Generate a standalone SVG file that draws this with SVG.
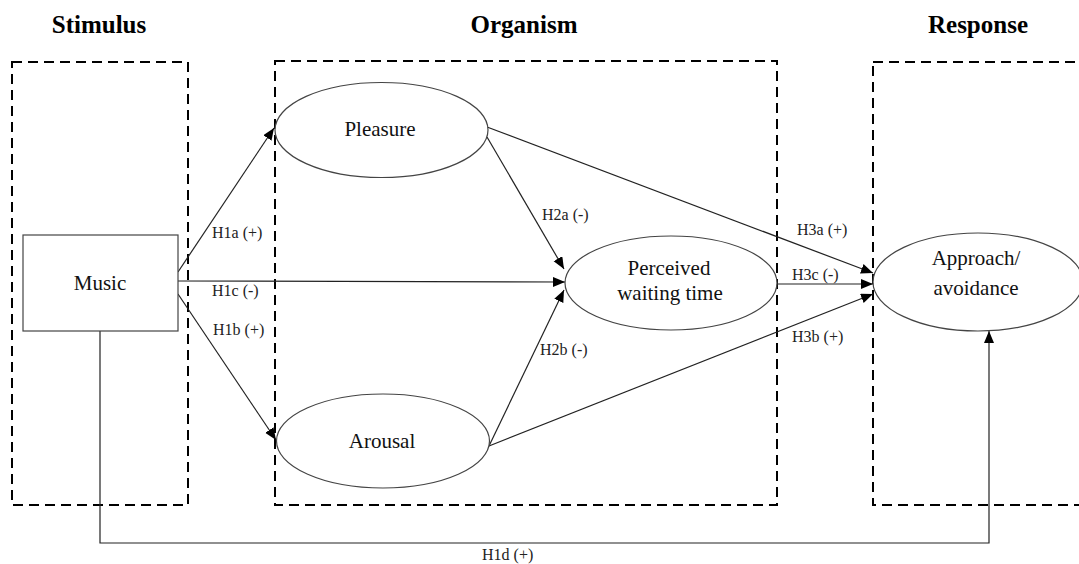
<svg xmlns="http://www.w3.org/2000/svg" width="1079" height="564" viewBox="0 0 1079 564">
<style>
text{font-family:'Liberation Serif','Times New Roman',Times,'DejaVu Serif',serif}
.title{font-size:25px;font-weight:bold;fill:#000;text-anchor:middle}
.node{font-size:21px;fill:#111;text-anchor:middle}
.lbl{font-size:16px;fill:#222}
.dash{fill:none;stroke:#000;stroke-width:2;stroke-dasharray:10,6}
.shape{fill:#fff;stroke:#444;stroke-width:1.2}
.edge{fill:none;stroke:#222;stroke-width:1.2}
</style>
<defs>
<marker id="arr" markerUnits="userSpaceOnUse" markerWidth="13" markerHeight="11" refX="12" refY="5" orient="auto">
<path d="M0,0 L12,5 L0,10 z" fill="#000"/>
</marker>
</defs>
<rect width="1079" height="564" fill="#fff"/>
<g id="stages" font-family="Liberation Serif, serif">
<text class="title" x="99" y="33">Stimulus</text>
<text class="title" x="524" y="33">Organism</text>
<text class="title" x="978" y="33">Response</text>
<rect class="dash" x="12" y="62" width="176" height="443"/>
<rect class="dash" x="275" y="61" width="502" height="444"/>
<rect class="dash" x="873" y="62" width="220" height="443"/>
</g>
<g id="connectors" font-family="Liberation Serif, serif">
<line class="edge" x1="178" y1="272" x2="274" y2="128" marker-end="url(#arr)"/>
<line class="edge" x1="178" y1="281" x2="565" y2="282" marker-end="url(#arr)"/>
<line class="edge" x1="178" y1="294" x2="276" y2="440" marker-end="url(#arr)"/>
<line class="edge" x1="487" y1="137" x2="564" y2="269" marker-end="url(#arr)"/>
<line class="edge" x1="489" y1="446" x2="564" y2="290" marker-end="url(#arr)"/>
<line class="edge" x1="487" y1="127" x2="873" y2="273" marker-end="url(#arr)"/>
<line class="edge" x1="777" y1="284" x2="873" y2="284" marker-end="url(#arr)"/>
<line class="edge" x1="489" y1="446" x2="873" y2="294" marker-end="url(#arr)"/>
<polyline class="edge" points="100,331 100,543 989,543 989,331" marker-end="url(#arr)"/>
<text class="lbl" x="212" y="238">H1a (+)</text>
<text class="lbl" x="212" y="296">H1c (-)</text>
<text class="lbl" x="213" y="335">H1b (+)</text>
<text class="lbl" x="542" y="220">H2a (-)</text>
<text class="lbl" x="540" y="355">H2b (-)</text>
<text class="lbl" x="797" y="235">H3a (+)</text>
<text class="lbl" x="792" y="280">H3c (-)</text>
<text class="lbl" x="792" y="342">H3b (+)</text>
<text class="lbl" x="482" y="560">H1d (+)</text>
</g>
<g id="music">
<rect class="shape" x="23" y="235" width="155" height="96"/>
<text class="node" x="100" y="290">Music</text>
</g>
<g id="pleasure">
<ellipse class="shape" cx="381.5" cy="130" rx="106.5" ry="47.5"/>
<text class="node" x="380" y="136">Pleasure</text>
</g>
<g id="arousal">
<ellipse class="shape" cx="383" cy="441" rx="106.5" ry="47"/>
<text class="node" x="382" y="448">Arousal</text>
</g>
<g id="perceived">
<ellipse class="shape" cx="671" cy="283" rx="106" ry="47"/>
<text class="node" x="669" y="275">Perceived</text>
<text class="node" x="670" y="300">waiting time</text>
</g>
<g id="approach">
<ellipse class="shape" cx="978" cy="282" rx="105" ry="49"/>
<text class="node" x="976" y="265">Approach/</text>
<text class="node" x="976" y="295">avoidance</text>
</g>
</svg>
